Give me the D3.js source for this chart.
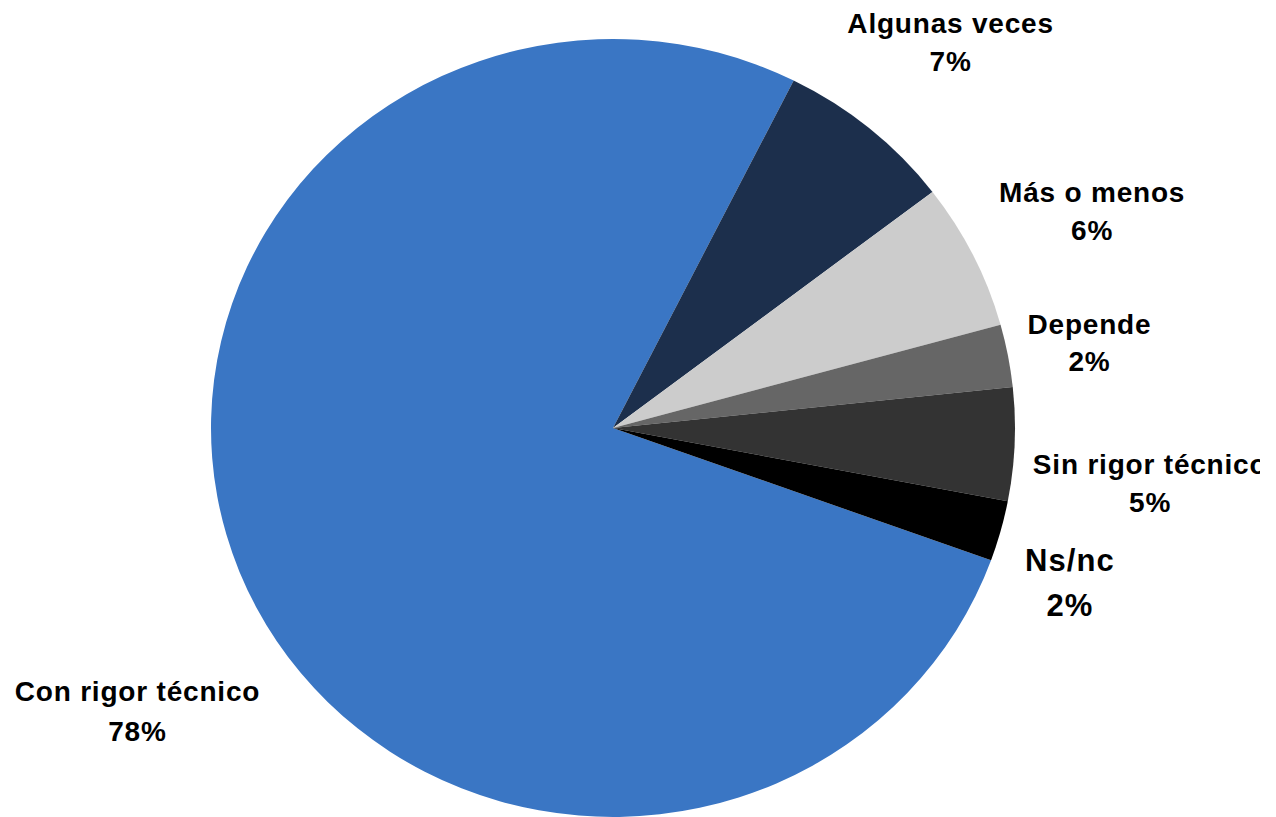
<!DOCTYPE html>
<html>
<head>
<meta charset="utf-8">
<script src="https://cdn.jsdelivr.net/npm/d3@7"></script>
<style>
  html, body { margin: 0; padding: 0; background: #ffffff; }
  svg { display: block; }
  text { font-family: "Liberation Sans", Arial, sans-serif; font-weight: bold; fill: #000; }
</style>
</head>
<body>
<svg id="chart" width="1276" height="817"></svg>
<script>
// ---- data ----
const categories = ["Con rigor técnico", "Algunas veces", "Más o menos", "Depende", "Sin rigor técnico", "Ns/nc"];
const values = [76.9, 7.2, 6.1, 2.6, 4.7, 2.5];
const pctLabels = ["78%", "7%", "6%", "2%", "5%", "2%"];
const colors = ["#3A76C4", "#1C2F4C", "#CCCCCC", "#666666", "#333333", "#000000"];

// ---- layout ----
const W = 1276, H = 817;
const cx = 613, cy = 428;
const ry = 389, rx = 402;           // slightly elliptical pie
const startDeg = 109.87;
const labelRho = 1.3;
const labelNudge = [[10, 86], [4, -6], [11, -1], [-37, 0], [15, 25], [-47, 9]];
const labelSize = [28, 28, 28, 28, 28, 31];
const labelSpacing = [0.8, 0.8, 0.8, 0.8, 0.8, 1.1];
const lineGap = [40, 38, 38, 37, 38, 45];

const svg = d3.select("#chart");
svg.append("defs").append("clipPath").attr("id", "clip")
  .append("rect").attr("x", 0).attr("y", 0).attr("width", 1260).attr("height", H);

const root = svg.append("g").attr("clip-path", "url(#clip)");

const pie = d3.pie().sort(null).value(d => d)
  .startAngle(startDeg * Math.PI / 180)
  .endAngle(startDeg * Math.PI / 180 + 2 * Math.PI);
const arcs = pie(values);

const arc = d3.arc().innerRadius(0).outerRadius(ry);
const labelArc = d3.arc().innerRadius(ry * labelRho).outerRadius(ry * labelRho);

const pieG = root.append("g")
  .attr("transform", `translate(${cx},${cy}) scale(${rx / ry},1)`);

pieG.selectAll("path").data(arcs).join("path")
  .attr("d", arc)
  .attr("fill", (d, i) => colors[i]);

const lab = root.append("g");
arcs.forEach((d, i) => {
  const c = labelArc.centroid(d);
  const x = cx + c[0] * rx / ry + labelNudge[i][0];
  const y = cy + c[1] + labelNudge[i][1];
  const t = lab.append("text")
    .attr("text-anchor", "middle")
    .style("font-size", labelSize[i] + "px")
    .style("letter-spacing", labelSpacing[i] + "px");
  t.append("tspan").attr("x", x).attr("y", y).text(categories[i]);
  t.append("tspan").attr("x", x).attr("y", y + lineGap[i]).text(pctLabels[i]);
});
</script>
</body>
</html>
